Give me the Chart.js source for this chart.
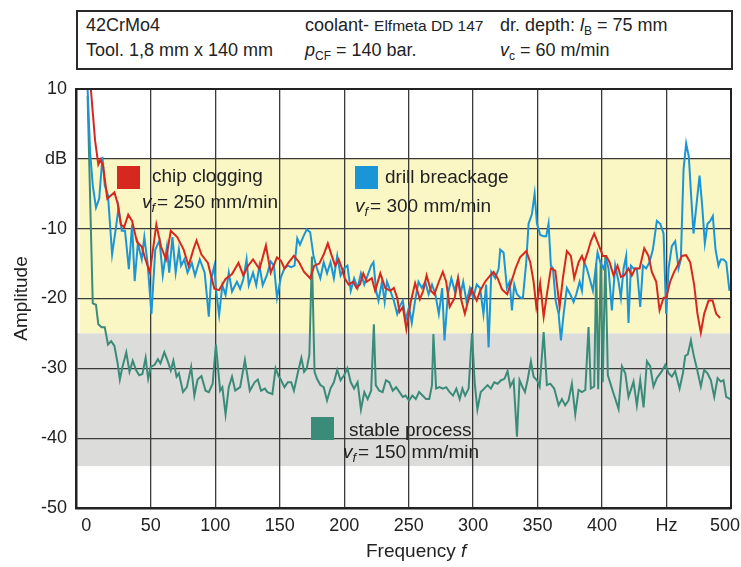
<!DOCTYPE html>
<html>
<head>
<meta charset="utf-8">
<script src="https://cdn.jsdelivr.net/npm/chart.js@4.4.1/dist/chart.umd.min.js"></script>
<style>
  html, body { margin: 0; padding: 0; background: #fff; }
  #wrap { position: relative; width: 741px; height: 567px; }
  #hdr { position: absolute; left: 76px; top: 10px; width: 657px; height: 60px; box-sizing: border-box;
         border: 2px solid #2a2a2a; font-family: "Liberation Sans", Arial, sans-serif; font-size: 18px; color: #222; background:#fff; }
  .c { position: absolute; white-space: nowrap; line-height: 20px; }
  .c sub { font-size: 12px; vertical-align: -4px; line-height: 0; }
  .sm { font-size: 15.5px; }
</style>
</head>
<body>
<div id="wrap">
  <canvas id="cv"></canvas>
  <div id="hdr">
    <div class="c" style="left:8px;top:3px;">42CrMo4</div>
    <div class="c" style="left:227px;top:3px;">coolant- <span class="sm">Elfmeta DD 147</span></div>
    <div class="c" style="left:422px;top:3px;">dr. depth: <i>l</i><sub>B</sub> = 75 mm</div>
    <div class="c" style="left:8px;top:28px;">Tool. 1,8 mm x 140 mm</div>
    <div class="c" style="left:227px;top:28px;"><i>p</i><sub>CF</sub> = 140 bar.</div>
    <div class="c" style="left:422px;top:28px;"><i>v</i><sub>c</sub> = 60 m/min</div>
  </div>
</div>
<script>
// ---- data (frequency in Hz, amplitude in dB) ----
const xTickValues = [0, 50, 100, 150, 200, 250, 300, 350, 400, 450, 500];
const xTickLabels = ['0', '50', '100', '150', '200', '250', '300', '350', '400', 'Hz', '500'];
const yTickValues = [10, 0, -10, -20, -30, -40, -50];
const yTickLabels = ['10', 'dB', '-10', '-20', '-30', '-40', '-50'];

const seriesNames = ['chip clogging', 'drill breackage', 'stable process'];
const feedLabels = ['250 mm/min', '300 mm/min', '150 mm/min'];

const redHz = [1.8,3.5,6.8,9.3,11,13,16.3,21.8,24.3,26.8,29.3,32.5,35.5,39.3,43,45.5,49.3,54.3,58,61.8,65.5,70.5,75.5,79.3,83,85.5,89.3,94.3,99.3,103,108,113,118,121.8,125.5,129.3,134.3,139.3,143,
 147.9,151,153.7,157.1,161,165,168.9,173.6,176.8,180.7,184.1,187.3,190.4,193,195.7,198.3,200.4,203.5,207,209.6,212.2,214.8,217.5,221.4,224,228,231.9,235.8,238.5,241.1,242.9,245.5,248.2,251.6,255,258.7,261.3,263.9,267.3,269.9,273.4,276.5,279.1,281.8,285.7,288.3,290.9,293.6,296.2,298.8,302.8,305.4,309.3,313.3,315.9,319,322.4,326.4,329,332.9,336.4,
 341.2,344.3,346.9,349,352,354.7,357.2,360.3,363.7,367.1,369.6,372.7,375.8,378.4,381.8,384.4,386.2,388.8,391.3,393.9,397.3,400.6,403.2,405.8,408.9,412,414.6,417.2,420.5,423.1,425.7,429.1,432.7,436,438.6,442,444.6,447.7,449.7,452.8,455.9,458.5,461.9,465.2,468.3,471.4,474,476.6,479.2,482.6,485.7,488.5,491.6];
const redDb = [10,10,2.6,-0.8,-0.1,-1,-5.7,-4.8,-6.4,-9.4,-9.8,-8,-8.9,-11.9,-12.6,-14.2,-16.3,-9.4,-12.6,-14.4,-10.3,-11.2,-13,-15.3,-13,-11.7,-13.7,-14.9,-18.6,-18.8,-17.2,-16.5,-14.9,-16.7,-15.3,-14.4,-15.8,-12.4,-16.3,
 -14.1,-14.6,-15.7,-14.8,-13.9,-14.8,-16.2,-17.1,-15.3,-15,-13.7,-12.1,-13.9,-15.3,-14.4,-15.7,-17.1,-18,-17.6,-18.5,-18,-16.4,-17.6,-17.1,-18.9,-16.4,-18.5,-18.9,-18.5,-19.9,-21.9,-21.2,-24.4,-20.5,-17.8,-20.1,-18.9,-16.7,-18.9,-19.4,-17.6,-16.2,-17.6,-21.2,-19.9,-17.1,-20.3,-22.2,-20.3,-18.7,-20.3,-18.9,-17.6,-16.7,-16.2,-17.1,-18.7,-19.4,-18,-15.7,-14.1,
 -13.2,-14.8,-17.6,-21.2,-17.8,-22.6,-19.4,-15.7,-16,-21.2,-17.1,-13.2,-13.9,-17.1,-14.8,-13.9,-14.8,-13.4,-11.8,-10.7,-12.3,-13.9,-13.9,-14.8,-16.7,-15.3,-16.9,-16.7,-15.7,-16.7,-15.7,-15.7,-12.8,-13.9,-16.2,-17.6,-21.7,-19.9,-19.9,-17.6,-16.2,-15.3,-13.9,-13.8,-14.8,-18,-22.2,-24.9,-22.2,-20.3,-20.3,-22.2,-22.8];

const blueHz = [1,3,5,7.5,10,12.5,14.3,16.8,20,23,25,27.5,30,33,35.5,37.5,40,43,45,47.5,50.5,53.5,56.8,59.3,62.5,64.3,66.8,69.3,71.8,73.5,76,78.5,81.8,84.3,88,91.8,95,96.8,99.3,100.5,103,105.5,108,110.5,113,116.8,119.3,121.8,124.3,126,129.3,131.8,134.3,136.8,140,143,145.5,
 147.9,151,153.7,156.3,158.9,161.5,163.6,165.7,168.4,171,173.6,176.2,178.9,181.5,184.1,186.7,189.4,192,194.6,197.2,199.9,202.5,205.1,207.7,210.4,213,215.6,218.2,220.9,222.7,224.8,226.6,229.3,231.4,233.2,235.8,238.5,241.1,242.9,245.5,247.6,250.3,252.4,255,257.6,260.2,262.9,265.5,268.1,270.7,273.4,276,277.8,280.4,283.1,285.7,288.3,290.2,292.3,294.9,297.5,300.1,302.8,305.4,308,310.1,312,314.1,317.2,319.8,
 321,323.6,326.2,328.3,330.1,331.9,334,336.6,338.6,341.2,343,345.6,347.7,349.5,352.1,354.7,356.7,358.5,360.3,361.9,364,366.3,368.1,370.2,372.7,375.3,377.9,380,382.6,384.4,386.2,388.2,390.3,392.9,394.7,396.5,398.6,401.2,403.2,405,407.6,410.2,412.8,414.6,416.7,418.7,420.5,422.4,424.4,427,429.6,431.7,434.2,436.8,439.4,442.5,445.1,447.7,449.7,451.6,454.1,456.7,459.3,461.1,463.2,465.2,467.3,468.9,470.9,473.5,475.6,477.6,479.7,481.8,483.9,485.9,488,490.3,492.1,494.2,496.3,498.8];
const blueDb = [10,0.8,-3.8,-7,-5.7,0.3,-3.8,-5.2,-13.7,-9.8,-7,-10.3,-10.3,-15.8,-9.4,-17.5,-12.1,-14.4,-11.2,-14.9,-22.2,-13,-11.7,-16.7,-12.6,-16.3,-11.2,-16.3,-13,-15.3,-14.4,-16.3,-14.9,-16.7,-14.4,-16.3,-22.6,-17.2,-15.3,-18.6,-22.4,-18.1,-19.5,-16.3,-19,-17.6,-18.6,-17.2,-14.4,-18.1,-16.3,-18.1,-15.3,-18.1,-16.7,-14.7,-15.3,
 -19.9,-16.9,-15.7,-15.3,-15.5,-15.3,-11.4,-12.3,-11.1,-10.1,-10.5,-13.9,-15.7,-17.1,-14.8,-16.4,-14.8,-17.1,-13.9,-16.7,-15.7,-15.3,-18.9,-17.1,-18.5,-16.4,-18,-16.7,-15.3,-14.8,-18.9,-20.3,-17.6,-20.5,-17.6,-18.9,-20.3,-22.2,-21.2,-20.3,-23.1,-21.2,-23.5,-20.3,-17.6,-18.5,-17.6,-19.4,-18,-19.4,-22.2,-18.5,-26,-19.4,-17.1,-18.9,-17.1,-19.4,-17.6,-20.5,-18.5,-19.9,-18,-18.5,-22.2,-18,-27,-16.2,-17.1,-15.7,
 -13,-13.4,-18.5,-17.6,-21.7,-18,-19.4,-19.9,-19.9,-14.8,-9.3,-7.9,-5,-9.3,-10.9,-11.1,-11.1,-9.3,-15.3,-15.7,-20.3,-22.2,-26,-22.2,-18.5,-19.4,-20.5,-19.4,-17.6,-18.9,-14.8,-15.7,-17.1,-18.9,-16.2,-13.4,-14.8,-15.7,-14.4,-15.7,-21.7,-15.3,-17.6,-19.9,-15.7,-13.9,-23.5,-15.3,-15.7,-15.7,-21.2,-15.3,-15.7,-14.8,-13,-8.9,-9.3,-10.7,-22.2,-15.7,-12.5,-11.8,-15.7,-14.4,-1.5,2.2,0.3,-4.7,-10.7,-6.1,-2.4,-6.6,-12.1,-9.3,-8.9,-8.2,-13,-15.3,-14.4,-14.4,-14.8,-18.9];

const greenHz = [1,3,5,7.5,9.3,11.8,14.3,16.8,19.3,21.8,24.3,26,28,31,33.5,36,38.5,41,43.5,46,48,50,53,55.5,57.5,60.5,63,65.5,67.5,70,71.8,75,78,81.3,83.8,86.3,89.3,92.5,95,98,100.5,103.8,105.5,108,110.5,113,115.5,119.3,123,126.8,130.5,133,135.5,138.5,140.5,144.3,146.8,149.3,
 150.5,153.7,156.3,158.9,161,164.2,166.8,168.9,171,173,175,177,178.9,181.5,184.1,186.7,189.4,192,194.6,197.2,199.9,202.5,205.1,207.7,210.4,213,215.6,218.2,220.9,223,224.5,227.2,229.8,232.4,235,237.7,240.3,242.9,245.5,247.6,250.3,252.9,255.5,258.1,260.8,263.4,266,268.1,269.2,271.3,273.9,276.5,279.1,281.8,284.4,287,289.6,291.7,293.8,296.5,299.1,301.2,303.3,305.9,308.6,311.2,313.8,316.4,319,321.7,324.3,
 326.7,328.8,331.4,334,336,338.1,340.2,342.2,344.8,346.9,349.5,351.6,354.7,357.2,359.8,362.9,366.3,368.9,371.4,374,376.6,379.2,381.8,384.4,387,389.5,391.3,393.9,395.5,397,399,400.5,402.5,404.5,408.9,412.8,415.4,418,420.5,424.4,427,429.6,432.2,434.8,437.3,439.9,442.5,446.4,449,451.6,454.1,456.7,460.1,462.7,464.5,466.5,468.9,470.9,473.5,476.6,479.2,481.8,484.4,487,489.6,492.1,494.2,496.3,499.4];
const greenDb = [9,-6,-20.7,-20.9,-23.7,-24.1,-24.1,-26.6,-26.1,-26.8,-29.3,-31.6,-29.8,-27.7,-30.5,-28.9,-30.2,-31,-30.8,-28.5,-31.5,-29.8,-29.5,-28.7,-29.3,-27.7,-28.9,-30.3,-28.9,-31.2,-30.7,-33.4,-32.7,-29.8,-33.9,-31.6,-31.1,-33.2,-33.4,-32.2,-26.6,-33.2,-32.7,-36.6,-32.7,-31.2,-33.2,-32.7,-28.8,-33.2,-32,-31.6,-33.2,-32.9,-33.4,-33.7,-30,-31.2,
 -31.5,-32.7,-32,-32,-33.2,-30.5,-28.5,-30.5,-30,-28,-14,-30.5,-31.5,-32.4,-32.7,-34.6,-32.9,-32,-30.2,-31.7,-31,-30,-32,-32.9,-32,-35.9,-33.4,-34.4,-33.2,-23.7,-32.4,-33.2,-33.4,-31.7,-32,-33.2,-32.7,-33.4,-34.1,-33.9,-34.6,-33.9,-34.4,-33.4,-33.9,-34.4,-34.4,-32.4,-25.1,-32.9,-32.7,-32.9,-32.7,-33.4,-33.9,-32.9,-34.4,-32.9,-33.9,-32.9,-25,-32,-35.9,-33.4,-32.9,-32.4,-32.9,-32,-32.2,-31.7,-31.5,
 -30.4,-32.6,-31.7,-39.8,-31.7,-32.6,-33.4,-31.7,-29,-31.2,-31.7,-32.6,-24.8,-32.4,-32.2,-32.9,-35.3,-34.4,-35.3,-34.6,-32.2,-36.6,-33.1,-33.4,-33.1,-24.1,-32.9,-32.6,-15,-33,-14.5,-32,-14,-31,-33.6,-35.8,-29.7,-30.7,-34.1,-31.9,-35.3,-31.7,-35.6,-29,-29.7,-32.6,-31.4,-30.4,-29.5,-30.7,-31.2,-30.4,-32.9,-30.7,-28.2,-28,-26,-28,-30,-32.6,-30.2,-30.7,-31.7,-34.1,-31.4,-31.9,-31.7,-34.1,-34.4];

// band limits (dB) of the shaded regions
const yellowBand = [0, -25];
const grayBand = [-25, -44];

const RED = '#d6281f', BLUE = '#1a95d8', GREEN = '#3b8b79';
const FONT = '"Liberation Sans", Arial, sans-serif';
const LAST_X = xTickValues[xTickValues.length - 1];

function pts(xs, ys) { return xs.map((x, i) => ({ x: x, y: ys[i] })); }

function rich(ctx, x, y, parts, size) {
  let cx = x;
  ctx.textBaseline = 'middle';
  ctx.textAlign = 'left';
  for (const p of parts) {
    const s = p.sub ? Math.round(size * 0.68) : size;
    ctx.font = (p.it ? 'italic ' : '') + s + 'px ' + FONT;
    ctx.fillText(p.t, cx, y + (p.sub ? size * 0.3 : 0));
    cx += ctx.measureText(p.t).width + (p.sub ? 2 : 0);
  }
}

const decor = {
  id: 'decor',
  beforeDraw(chart) {
    const { ctx, chartArea: a, scales: { y } } = chart;
    ctx.save();
    ctx.fillStyle = '#faf7c5';
    const y1 = y.getPixelForValue(yellowBand[0]), y2 = y.getPixelForValue(yellowBand[1]);
    ctx.fillRect(a.left + 4, y1, a.right - a.left - 4, y2 - y1);
    ctx.fillStyle = '#dcdcda';
    const g1 = y.getPixelForValue(grayBand[0]), g2 = y.getPixelForValue(grayBand[1]);
    ctx.fillRect(a.left + 1, g1, a.right - a.left - 1, g2 - g1);
    ctx.restore();
  },
  afterDatasetsDraw(chart) {
    const { ctx, chartArea: a } = chart;
    ctx.save();
    ctx.strokeStyle = '#222';
    ctx.lineWidth = 2;
    ctx.strokeRect(a.left, a.top, a.right - a.left, a.bottom - a.top);
    // last x tick label kept inside the canvas (right-aligned)
    ctx.fillStyle = '#222';
    ctx.font = '18px ' + FONT;
    ctx.textAlign = 'right';
    ctx.textBaseline = 'middle';
    ctx.fillText(xTickLabels[xTickLabels.length - 1], chart.width - 1, a.bottom + 7 + 10.8);
    // legend boxes and labels
    const items = [
      { c: RED, sx: a.left + 41, sy: a.top + 77, tx: a.left + 76, ty: a.top + 88, vx: a.left + 66, vy: a.top + 114 },
      { c: BLUE, sx: a.left + 279, sy: a.top + 77, tx: a.left + 309, ty: a.top + 89, vx: a.left + 279, vy: a.top + 118 },
      { c: GREEN, sx: a.left + 235, sy: a.top + 328, tx: a.left + 273, ty: a.top + 342, vx: a.left + 267, vy: a.top + 364 }
    ];
    items.forEach((it, i) => {
      ctx.fillStyle = it.c;
      ctx.fillRect(it.sx, it.sy, 23, 23);
      ctx.fillStyle = '#222';
      rich(ctx, it.tx, it.ty, [{ t: seriesNames[i] }], 19);
      rich(ctx, it.vx, it.vy, [{ t: 'v', it: true }, { t: 'f', it: true, sub: true }, { t: '= ' + feedLabels[i] }], 19);
    });
    // x-axis title
    rich(ctx, a.left + 290, a.bottom + 44, [{ t: 'Frequency ' }, { t: 'f', it: true }], 19);
    ctx.restore();
  }
};

new Chart(document.getElementById('cv'), {
  type: 'line',
  data: {
    datasets: [
      { label: seriesNames[0], data: pts(redHz, redDb), borderColor: RED, borderWidth: 2, pointRadius: 0, fill: false, tension: 0 },
      { label: seriesNames[1], data: pts(blueHz, blueDb), borderColor: BLUE, borderWidth: 2, pointRadius: 0, fill: false, tension: 0 },
      { label: seriesNames[2], data: pts(greenHz, greenDb), borderColor: GREEN, borderWidth: 2, pointRadius: 0, fill: false, tension: 0 }
    ]
  },
  options: {
    responsive: true,
    maintainAspectRatio: false,
    animation: false,
    events: [],
    layout: { padding: { top: 89, right: 10, left: 0, bottom: 0 } },
    plugins: { legend: { display: false }, tooltip: { enabled: false } },
    scales: {
      x: {
        type: 'linear', min: -8, max: 500,
        afterBuildTicks: s => { s.ticks = xTickValues.map(v => ({ value: v })); },
        afterFit: s => { s.height = 59; s.paddingRight = 0; s.paddingLeft = 0; },
        grid: { drawTicks: false, lineWidth: 1.3, color: c => (c.tick && c.tick.value === 0) ? 'rgba(0,0,0,0)' : '#3a3a3a' },
        border: { display: true, color: '#222', width: 2.5 },
        ticks: { autoSkip: false, maxRotation: 0, padding: 7, color: '#222', font: { family: FONT, size: 18 },
                 callback: v => v === LAST_X ? '' : xTickLabels[xTickValues.indexOf(v)] }
      },
      y: {
        type: 'linear', min: -50, max: 10,
        afterBuildTicks: s => { s.ticks = yTickValues.map(v => ({ value: v })); },
        afterFit: s => { s.width = 76; s.paddingTop = 0; s.paddingBottom = 0; },
        grid: { drawTicks: false, lineWidth: 1.3, color: '#3a3a3a' },
        border: { display: true, color: '#222', width: 2.5 },
        ticks: { padding: 9, color: '#222', font: { family: FONT, size: 18 },
                 callback: v => yTickLabels[yTickValues.indexOf(v)] },
        title: { display: true, text: 'Amplitude', color: '#222', font: { family: FONT, size: 19 }, padding: { top: 10, bottom: 0 } }
      }
    }
  },
  plugins: [decor]
});
</script>
</body>
</html>
